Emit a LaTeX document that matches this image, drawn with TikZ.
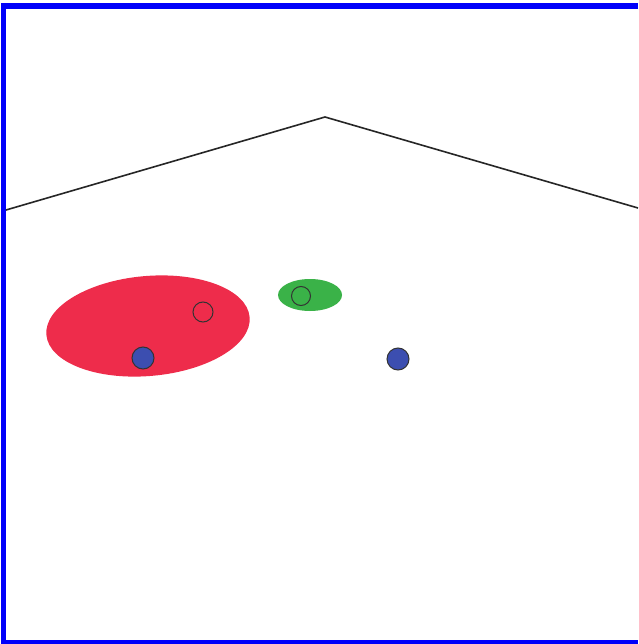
\documentclass[tikz,border=0pt]{standalone}
\definecolor{framblue}{RGB}{0,0,250}
\definecolor{regred}{RGB}{238,44,75}
\definecolor{reggreen}{RGB}{58,178,72}
\definecolor{dotblue}{RGB}{60,78,176}
\begin{document}
\begin{tikzpicture}[x=1pt,y=-1pt,
  dot/.style={draw=black!80,line width=1pt,circle,inner sep=0pt},
  frame/.style={fill=framblue,draw=none}]
\useasboundingbox (0,0) rectangle (638,644);
\fill[white] (0,0) rectangle (638,644);
% frame
\path[frame] (1,3) rectangle (638,9);
\path[frame] (1,3) rectangle (6,644);
\path[frame] (1,640) rectangle (638,644);
% roof line
\coordinate (l) at (6,210);
\coordinate (p) at (325,117);
\coordinate (r) at (638,208);
\draw[line width=1.6pt,black!85] (l) -- (p) -- (r);
% regions
\fill[regred,rotate around={5:(148,326)}] (148,326) ellipse [x radius=102pt, y radius=50pt];
\fill[reggreen] (310,295) ellipse [x radius=32pt, y radius=16pt];
% dots
\node[dot,fill=regred,minimum size=20pt] (rc) at (203,312) {};
\node[dot,fill=reggreen,minimum size=19pt] (gc) at (301,296) {};
\node[dot,fill=dotblue,minimum size=22pt] (b1) at (143,358) {};
\node[dot,fill=dotblue,minimum size=22pt] (b2) at (398,359) {};
\end{tikzpicture}
\end{document}
